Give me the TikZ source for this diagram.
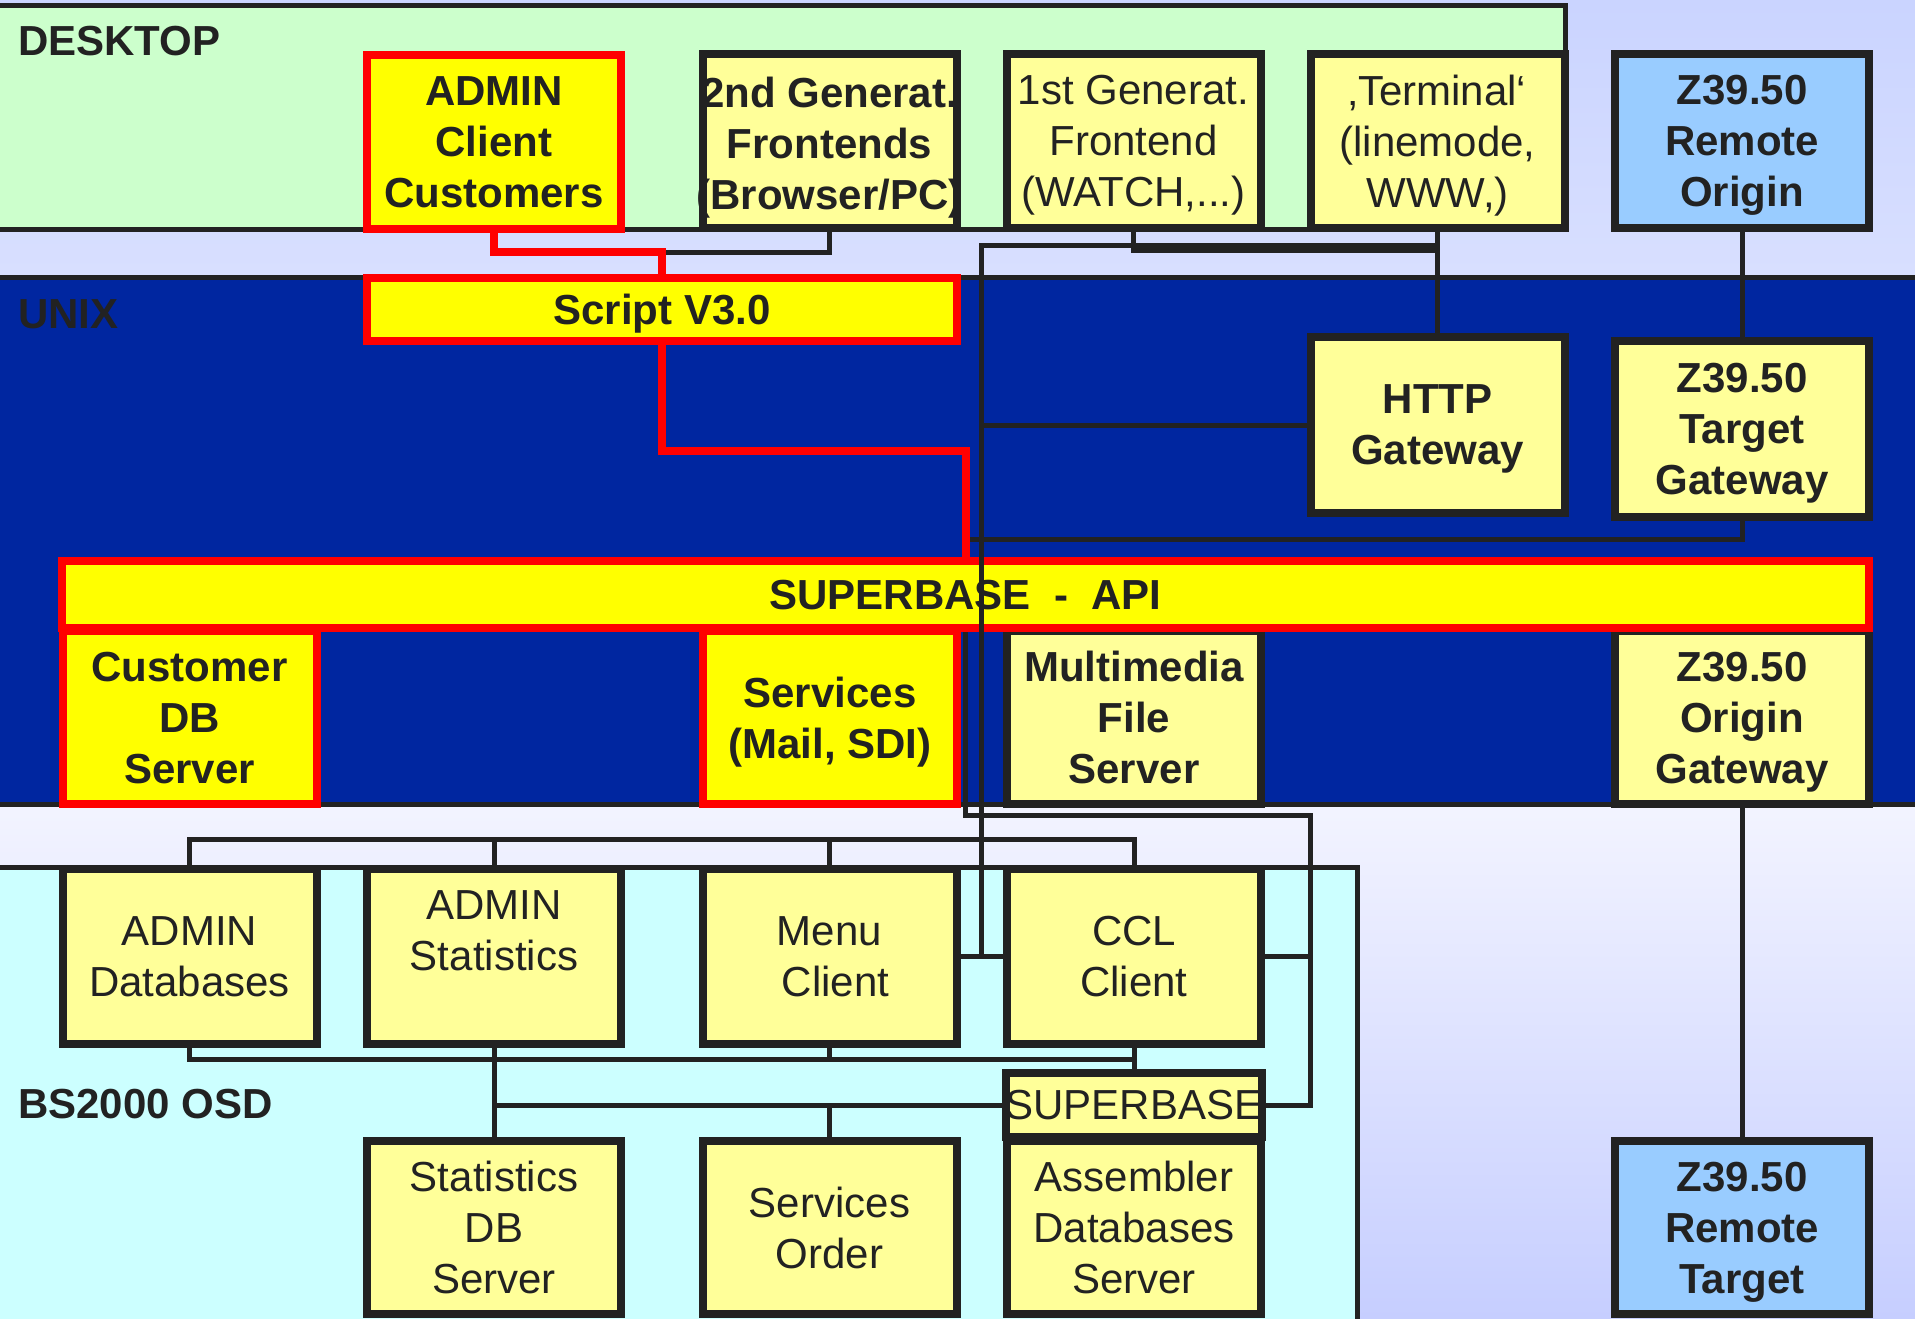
\documentclass[tikz,border=0pt]{standalone}
\usepackage{fontspec}
\setmainfont{Liberation Sans}
\definecolor{ink}{HTML}{222222}
\definecolor{myred}{HTML}{FF0000}
\definecolor{yy}{HTML}{FFFF00}
\definecolor{ly}{HTML}{FFFF99}
\definecolor{lb}{HTML}{99CCFF}
\definecolor{desk}{HTML}{CCFFCC}
\definecolor{ublue}{HTML}{0026A0}
\definecolor{bscyan}{HTML}{CCFFFF}
\definecolor{bgtop}{HTML}{CAD4FF}
\definecolor{bgmid}{HTML}{F3F4FF}
\definecolor{bgbot}{HTML}{C6CEFF}
\tikzset{
  ln/.style={draw=ink, line width=5pt, line join=miter},
  rln/.style={draw=myred, line width=8pt, line join=miter},
  bandbox/.style={draw=ink, line width=5pt},
  bx/.style={draw=ink, line width=8pt, fill=ly, minimum width=254pt, minimum height=174pt,
    inner sep=0pt, align=center, text=ink, text depth=0pt, font=\fontsize{42}{51}\selectfont},
  bbx/.style={bx, font=\fontsize{42}{51}\selectfont\bfseries},
  rbx/.style={bbx, draw=myred, fill=yy},
  blbx/.style={bbx, fill=lb},
  txt/.style={inner sep=0pt, align=center, text=ink, text depth=0pt},
  lbl/.style={inner sep=0pt, text=ink, font=\fontsize{42}{51}\selectfont\bfseries, anchor=base west}
}
\begin{document}
\begin{tikzpicture}[x=1pt,y=-1pt]
\useasboundingbox (0,0) rectangle (1915,1318);
\clip (0,0) rectangle (1915,1318);
% background
\shade[top color=bgtop, bottom color=bgmid] (0,0) rectangle (1915,800);
\shade[top color=bgmid, bottom color=bgbot] (0,800) rectangle (1915,1318);
% bands
\draw[bandbox, fill=desk] (-10,5) rectangle (1565,229);
\draw[bandbox, fill=ublue] (-10,277.5) rectangle (1925,804.5);
\draw[bandbox, fill=bscyan] (-10,867) rectangle (1357,1330);
\node[lbl] (ldesk) at (18,55) {DESKTOP};
\node[lbl] (lunix) at (18,328) {UNIX};
\node[lbl] (lbs) at (18,1118) {BS2000 OSD};
% desktop row
\node[rbx] (admin) at (494,142) {ADMIN\\Client\\Customers};
\node[bbx] (gen2) at (829.5,141) {};
\node[txt, font=\fontsize{42}{51}\selectfont\bfseries] (gen2t) at (829.5,143) {2nd Generat.\\Frontends\\(Browser/PC)};
\node[bx] (gen1) at (1133.5,141) {1st Generat.\\Frontend\\(WATCH,...)};
\node[bx] (term) at (1437.5,141) {‚Terminal‘\\(linemode,\\WWW,)};
\node[blbx] (zro) at (1742,141) {Z39.50\\Remote\\Origin};
% unix row
\node[rbx, minimum width=590pt, minimum height=63pt] (script) at (662,309.5) {Script V3.0};
\node[bbx, minimum height=176pt] (http) at (1437.5,425) {HTTP\\Gateway};
\node[bbx, minimum height=176pt] (ztg) at (1742,429) {Z39.50\\Target\\Gateway};
\node[rbx, minimum height=173pt] (custdb) at (189.5,717.5) {Customer\\DB\\Server};
\node[rbx, minimum height=173pt] (svc) at (830,717.5) {Services\\(Mail, SDI)};
\node[bbx, minimum height=173pt] (mm) at (1134,717.5) {Multimedia\\File\\Server};
\node[bbx, minimum height=173pt] (zog) at (1742,717.5) {Z39.50\\Origin\\Gateway};
\node[rbx, minimum width=1807pt, minimum height=67pt] (api) at (965.5,594.5) {SUPERBASE\ \ -\ \ API};
% bs2000 row
\node[bx, minimum height=175pt] (admindb) at (189.5,956.5) {ADMIN\\Databases};
\node[bx, minimum height=175pt] (adminstat) at (494,956.5) {ADMIN\\Statistics\\\mbox{}};
\node[bx, minimum height=175pt] (menu) at (829.5,956.5) {Menu\\\hspace*{12pt}Client};
\node[bx, minimum height=175pt] (ccl) at (1134,956.5) {CCL\\Client};
\node[bx, minimum height=64pt] (sbs) at (1134,1105) {SUPERBASE};
\node[bx, minimum height=173pt] (statdb) at (494,1227.5) {Statistics\\DB\\Server};
\node[bx, minimum height=173pt] (svco) at (829.5,1227.5) {Services\\Order};
\node[bx, minimum height=173pt] (asm) at (1134,1227.5) {Assembler\\Databases\\Server};
\node[blbx, minimum height=173pt] (zrt) at (1742,1227.5) {Z39.50\\Remote\\Target};
% junction coordinates
\coordinate (j1) at (662,252);
\coordinate (j2) at (662,451);
\coordinate (j3) at (965.5,451);
\coordinate (j4) at (1437.5,250);
\coordinate (j5) at (1437.5,245);
\coordinate (j6) at (981,956.5);
\coordinate (j8) at (965.5,539);
\coordinate (j7) at (1310,815);
\coordinate (b1) at (1134,839);
\coordinate (b2) at (1134,1059);
% black connectors
\draw[ln] (gen2.south) |- (j1);
\draw[ln] (term.south) -- (http.north);
\draw[ln] (gen1.south) |- (j4);
\draw[ln] (j5) -| (j6);
\draw[ln] (menu.east) -- (ccl.west);
\draw[ln] (http.west) -- (http.west -| j6);
\draw[ln] (ztg.south) |- (j8);
\draw[ln] (zro.south) -- (ztg.north);
\draw[ln] (zog.south) -- (zrt.north);
\draw[ln] (api.south) |- (j7) |- (sbs.east);
\draw[ln] (ccl.east) -- (ccl.east -| j7);
\draw[ln] (admindb.north) |- (b1) -- (ccl.north);
\draw[ln] (adminstat.north) -- (adminstat.north |- b1);
\draw[ln] (menu.north) -- (menu.north |- b1);
\draw[ln] (admindb.south) |- (b2);
\draw[ln] (ccl.south) -- (sbs.north);
\draw[ln] (menu.south) -- (menu.south |- b2);
\draw[ln] (adminstat.south) -- (statdb.north);
\draw[ln] (sbs.west) -- (sbs.west -| adminstat.south);
\draw[ln] (svco.north) -- (svco.north |- sbs.west);
% red connectors
\draw[rln] (admin.south) |- (j1) -- (script.north);
\draw[rln] (script.south) -- (j2) -- (j3) -- (api.north);
\end{tikzpicture}
\end{document}
